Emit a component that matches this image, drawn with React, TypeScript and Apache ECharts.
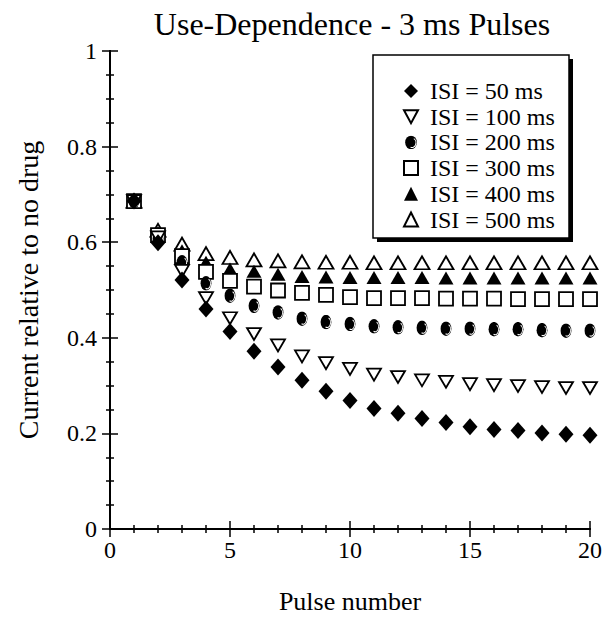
import React, { useEffect, useRef } from "react";
import * as echarts from "echarts";

const pulses = [1, 2, 3, 4, 5, 6, 7, 8, 9, 10, 11, 12, 13, 14, 15, 16, 17, 18, 19, 20];
const isi50 = [0.686, 0.599, 0.521, 0.46, 0.413, 0.372, 0.339, 0.311, 0.288, 0.269, 0.252, 0.242, 0.231, 0.223, 0.214, 0.208, 0.206, 0.201, 0.198, 0.196];
const isi100 = [0.686, 0.61, 0.54, 0.483, 0.441, 0.408, 0.384, 0.361, 0.347, 0.335, 0.323, 0.318, 0.311, 0.308, 0.303, 0.301, 0.299, 0.297, 0.295, 0.295];
const isi200 = [0.686, 0.607, 0.558, 0.514, 0.488, 0.467, 0.453, 0.44, 0.433, 0.429, 0.424, 0.422, 0.421, 0.419, 0.419, 0.418, 0.418, 0.416, 0.415, 0.415];
const isi300 = [0.686, 0.615, 0.571, 0.538, 0.519, 0.507, 0.499, 0.494, 0.49, 0.485, 0.483, 0.483, 0.483, 0.482, 0.482, 0.482, 0.481, 0.481, 0.481, 0.481];
const isi400 = [0.686, 0.62, 0.582, 0.558, 0.544, 0.539, 0.533, 0.528, 0.527, 0.526, 0.526, 0.526, 0.526, 0.525, 0.525, 0.525, 0.525, 0.525, 0.525, 0.525];
const isi500 = [0.686, 0.625, 0.596, 0.576, 0.568, 0.563, 0.561, 0.559, 0.558, 0.558, 0.557, 0.557, 0.557, 0.557, 0.557, 0.557, 0.557, 0.557, 0.557, 0.557];
const seriesNames = ["ISI = 50 ms", "ISI = 100 ms", "ISI = 200 ms", "ISI = 300 ms", "ISI = 400 ms", "ISI = 500 ms"];

const FONT = "'Liberation Serif', 'Times New Roman', serif";

const sphereSvg =
  "<svg xmlns='http://www.w3.org/2000/svg' width='26' height='30' viewBox='0 0 26 30'>" +
  "<ellipse cx='13' cy='15' rx='12.5' ry='14.5' fill='black'/>" +
  "<path d='M19 7 A8 10 0 0 1 12 25' fill='none' stroke='white' stroke-width='2.2'/>" +
  "</svg>";
const sphereSymbol = "image://data:image/svg+xml;charset=utf-8," + encodeURIComponent(sphereSvg);

export default function App() {
  const ref = useRef<HTMLDivElement>(null);
  useEffect(() => {
    if (!ref.current) return;
    const chart = echarts.init(ref.current, null, { renderer: "svg" });
    const zip = (vals: number[]) => pulses.map((p, i) => [p, vals[i]]);
    const open = { color: "#fff", borderColor: "#000", borderWidth: 1.8, opacity: 1 };
    const filled = { color: "#000", borderColor: "#000", borderWidth: 0, opacity: 1 };
    const axisCommon = {
      type: "value" as const,
      axisLine: { show: true, lineStyle: { color: "#000", width: 2 } },
      axisTick: { show: true, inside: true, length: 8, lineStyle: { color: "#000", width: 1.5 } },
      minorTick: { show: true, length: 4, lineStyle: { color: "#000", width: 1.5 } },
      splitLine: { show: false },
    };
    chart.setOption({
      animation: false,
      backgroundColor: "#fff",
      title: {
        text: "Use-Dependence - 3 ms Pulses",
        left: 347,
        textAlign: "center",
        top: 3,
        textStyle: { fontFamily: FONT, fontSize: 32, fontWeight: "normal", color: "#000" },
      },
      grid: { left: 110, right: 14, top: 51, bottom: 88 },
      xAxis: [
        {
          ...axisCommon,
          position: "bottom",
          min: 0,
          max: 20,
          interval: 5,
          minorTick: { ...axisCommon.minorTick, splitNumber: 5 },
          axisLabel: { fontFamily: FONT, fontSize: 24, color: "#000", margin: 9 },
          name: "Pulse number",
          nameLocation: "middle",
          nameGap: 59,
          nameTextStyle: { fontFamily: FONT, fontSize: 26, color: "#000" },
        },
        {
          ...axisCommon,
          position: "top",
          min: 0,
          max: 20,
          interval: 5,
          minorTick: { ...axisCommon.minorTick, splitNumber: 5 },
          axisLabel: { show: false },
        },
      ],
      yAxis: [
        {
          ...axisCommon,
          position: "left",
          min: 0,
          max: 1,
          interval: 0.2,
          minorTick: { ...axisCommon.minorTick, splitNumber: 4 },
          axisLabel: { fontFamily: FONT, fontSize: 24, color: "#000", margin: 13 },
          name: "Current relative to no drug",
          nameLocation: "middle",
          nameGap: 68,
          nameTextStyle: { fontFamily: FONT, fontSize: 28, color: "#000" },
        },
        {
          ...axisCommon,
          position: "right",
          min: 0,
          max: 1,
          interval: 0.2,
          minorTick: { ...axisCommon.minorTick, splitNumber: 4 },
          axisLabel: { show: false },
        },
      ],
      legend: {
        orient: "vertical",
        left: 398,
        top: 74,
        itemWidth: 14,
        itemHeight: 14,
        itemGap: 1.7,
        z: 10,
        data: seriesNames,
        textStyle: { fontFamily: FONT, fontSize: 24, color: "#000", lineHeight: 24, padding: [0, 0, 0, 7] },
      },
      graphic: [
        { type: "rect", z: 3, shape: { x: 377, y: 59, width: 196, height: 183 }, style: { fill: "#000" } },
        { type: "rect", z: 4, shape: { x: 373, y: 55, width: 196, height: 183 }, style: { fill: "#fff", stroke: "#000", lineWidth: 1.5 } },
      ],
      series: [
        { name: seriesNames[5], type: "scatter", data: zip(isi500), symbol: "triangle", symbolSize: [15, 13], itemStyle: open },
        { name: seriesNames[4], type: "scatter", data: zip(isi400), symbol: "triangle", symbolSize: [15, 13], itemStyle: filled },
        { name: seriesNames[3], type: "scatter", data: zip(isi300), symbol: "rect", symbolSize: [14, 14], itemStyle: open },
        { name: seriesNames[2], type: "scatter", data: zip(isi200), symbol: sphereSymbol, symbolSize: [13, 15], itemStyle: filled },
        { name: seriesNames[1], type: "scatter", data: zip(isi100), symbol: "path://M0,0 L12,0 L6,11 Z", symbolKeepAspect: true, symbolSize: [14, 13], itemStyle: open },
        { name: seriesNames[0], type: "scatter", data: zip(isi50), symbol: "diamond", symbolSize: [15, 17], itemStyle: filled },
      ],
    });
    return () => chart.dispose();
  }, []);
  return <div ref={ref} style={{ position: "fixed", left: 0, top: 0, width: 605, height: 619 }} />;
}
